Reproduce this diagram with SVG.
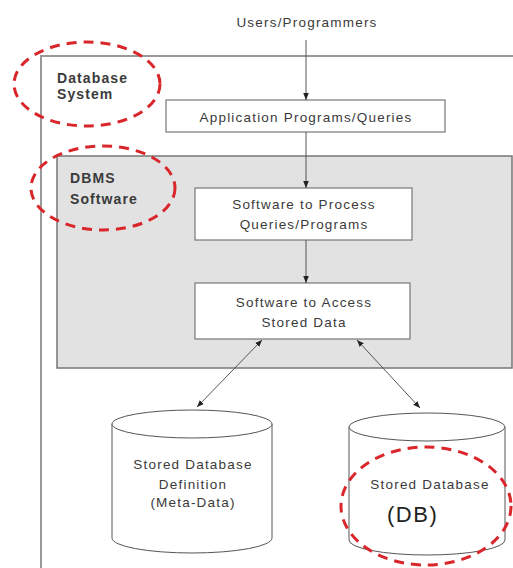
<svg xmlns="http://www.w3.org/2000/svg" width="513" height="568" viewBox="0 0 513 568">
<style>
text{font-family:"Liberation Sans",Arial,sans-serif;fill:#3a3a3a;font-size:13.5px;letter-spacing:1.2px}
.c{text-anchor:middle}
.b{font-weight:bold;font-size:14px;letter-spacing:1.1px}
.box{fill:#fff;stroke:#777;stroke-width:1.2}
.ln{stroke:#555;stroke-width:1;fill:none}
.red{fill:none;stroke:#d9262b;stroke-width:3;stroke-dasharray:10 7}
</style>
<defs>
<marker id="ah" viewBox="0 0 10 10" refX="10" refY="5" markerWidth="7" markerHeight="7" orient="auto-start-reverse" markerUnits="userSpaceOnUse">
<path d="M0,1 L10,5 L0,9 z" fill="#222"/>
</marker>
</defs>
<rect width="513" height="568" fill="#fff"/>
<g id="database-system">
<path d="M513,56 H41 V568" fill="none" stroke="#999" stroke-width="2"/>
<text class="b" x="57" y="83">Database</text>
<text class="b" x="57" y="99">System</text>
</g>
<g id="users"><text class="c" x="307" y="27">Users/Programmers</text></g>
<g id="app">
<rect class="box" x="166" y="100" width="279" height="32"/>
<text class="c" x="306" y="122">Application Programs/Queries</text>
</g>
<g id="dbms">
<rect x="57" y="156" width="455" height="212" fill="#e2e2e2" stroke="#777" stroke-width="1.5"/>
<text class="b" x="70" y="183">DBMS</text>
<text class="b" x="70" y="204">Software</text>
</g>
<g id="process">
<rect class="box" x="195" y="188" width="217" height="52"/>
<text class="c" x="304" y="209">Software to Process</text>
<text class="c" x="304" y="229">Queries/Programs</text>
</g>
<g id="access">
<rect class="box" x="195" y="283" width="215" height="56"/>
<text class="c" x="304" y="307">Software to Access</text>
<text class="c" x="304" y="327">Stored Data</text>
</g>
<g id="metadata">
<path d="M112,424 V538 A80,15 0 0 0 272,538 V424" fill="#fff" stroke="#555" stroke-width="1"/>
<ellipse cx="192" cy="424" rx="80" ry="14" fill="#fff" stroke="#555" stroke-width="1"/>
<text class="c" x="193" y="469">Stored Database</text>
<text class="c" x="193" y="489">Definition</text>
<text class="c" x="193" y="507">(Meta-Data)</text>
</g>
<g id="db">
<path d="M349,427 V540 A78,15 0 0 0 505,540 V427" fill="#fff" stroke="#555" stroke-width="1"/>
<ellipse cx="427" cy="427" rx="78" ry="14" fill="#fff" stroke="#555" stroke-width="1"/>
<text class="c" x="430" y="489">Stored Database</text>
<text x="387" y="522" style="font-size:22px;letter-spacing:1.5px;fill:#222">(DB)</text>
</g>
<g id="connectors">
<line class="ln" x1="306" y1="40" x2="306" y2="100" marker-end="url(#ah)"/>
<line class="ln" x1="306" y1="132" x2="306" y2="188" marker-end="url(#ah)"/>
<line class="ln" x1="306" y1="240" x2="306" y2="283" marker-end="url(#ah)"/>
<line class="ln" x1="262" y1="340" x2="197" y2="407" marker-start="url(#ah)" marker-end="url(#ah)"/>
<line class="ln" x1="357" y1="340" x2="420" y2="408" marker-start="url(#ah)" marker-end="url(#ah)"/>
</g>
<g id="highlights">
<ellipse class="red" cx="87" cy="84" rx="73" ry="42"/>
<ellipse class="red" cx="103" cy="188" rx="72" ry="42"/>
<ellipse class="red" cx="426" cy="506" rx="85" ry="59"/>
</g>
</svg>
